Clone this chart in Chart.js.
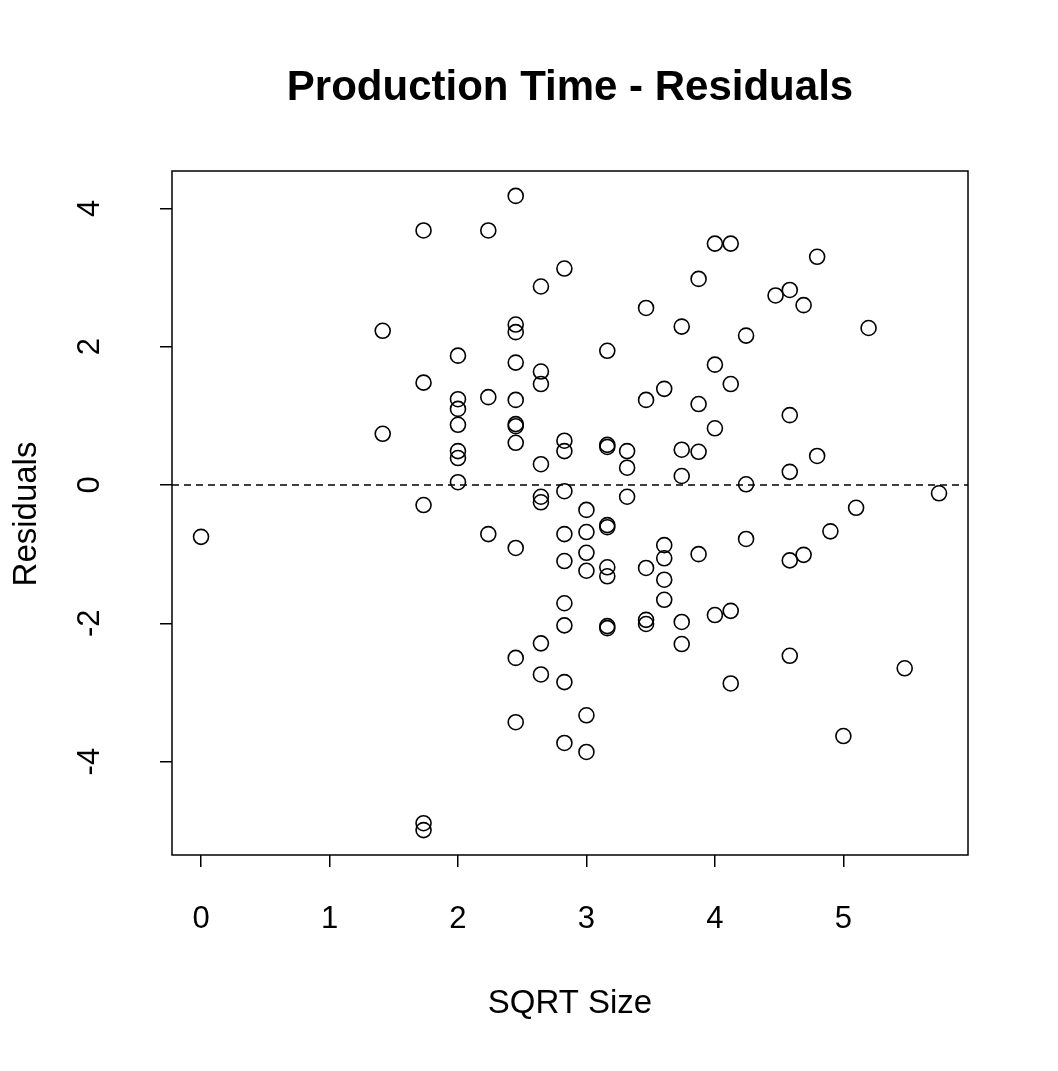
<!DOCTYPE html>
<html>
<head>
<meta charset="utf-8">
<script src="https://cdn.jsdelivr.net/npm/chart.js@4"></script>
<style>
  body { margin: 0; background: #fff; }
  #wrap { width: 1058px; height: 1071px; }
</style>
</head>
<body>
<div id="wrap"><canvas id="resid"></canvas></div>
<script>
// size values (x is sqrt of these) and residuals
const sizes = [0,
  2, 2,
  3, 3, 3, 3, 3,
  4, 4, 4, 4, 4, 4, 4,
  5, 5, 5,
  6, 6, 6, 6, 6, 6, 6, 6, 6, 6, 6,
  7, 7, 7, 7, 7, 7, 7, 7,
  8, 8, 8, 8, 8, 8, 8, 8, 8, 8,
  9, 9, 9, 9, 9, 9,
  10, 10, 10, 10, 10, 10, 10, 10, 10,
  11, 11, 11,
  12, 12, 12, 12, 12,
  13, 13, 13, 13, 13,
  14, 14, 14, 14, 14,
  15, 15, 15, 15,
  16, 16, 16, 16,
  17, 17, 17, 17,
  18, 18, 18,
  20,
  21, 21, 21, 21, 21,
  22, 22,
  23, 23,
  24, 25, 26, 27, 30, 33];
const residuals = [-0.75,
  2.23, 0.74,
  3.68, 1.48, -0.29, -4.89, -4.99,
  1.87, 1.24, 1.10, 0.87, 0.49, 0.39, 0.04,
  3.68, 1.27, -0.71,
  4.18, 2.32, 2.21, 1.77, 1.23, 0.88, 0.85, 0.61, -0.91, -2.50, -3.43,
  2.87, 1.64, 1.46, 0.30, -0.17, -0.25, -2.29, -2.74,
  3.13, 0.64, 0.49, -0.09, -0.71, -1.10, -1.71, -2.03, -2.85, -3.73,
  -0.36, -0.68, -0.98, -1.24, -3.33, -3.86,
  1.94, 0.58, 0.55, -0.58, -0.61, -1.19, -1.32, -2.04, -2.07,
  0.49, 0.25, -0.17,
  2.56, 1.23, -1.20, -1.95, -2.01,
  1.39, -0.87, -1.06, -1.37, -1.66,
  2.29, 0.51, 0.13, -1.98, -2.30,
  2.98, 1.17, 0.48, -1.00,
  3.49, 1.74, 0.82, -1.88,
  3.49, 1.46, -1.82, -2.87,
  2.16, 0.01, -0.78,
  2.74,
  2.82, 1.01, 0.19, -1.09, -2.47,
  2.60, -1.01,
  3.30, 0.42,
  -0.67, -3.63, -0.33, 2.27, -2.65, -0.12];
const xTicks = [0, 1, 2, 3, 4, 5];
const yTicks = [-4, -2, 0, 2, 4];

const points = sizes.map((s, i) => ({ x: Math.sqrt(s), y: residuals[i] }));
const FONT = "'Liberation Sans', Arial, sans-serif";

const decor = {
  id: "decor",
  afterDraw(chart) {
    const ctx = chart.ctx;
    const a = chart.chartArea;
    const ys = chart.scales.y;
    ctx.save();
    // box
    ctx.strokeStyle = "#000";
    ctx.lineWidth = 1.5;
    ctx.strokeRect(a.left, a.top, a.right - a.left, a.bottom - a.top);
    // zero line
    const y0 = ys.getPixelForValue(0);
    ctx.setLineDash([7, 5]);
    ctx.beginPath();
    ctx.moveTo(a.left, y0);
    ctx.lineTo(a.right, y0);
    ctx.stroke();
    ctx.setLineDash([]);
    ctx.fillStyle = "#000";
    // rotated y tick labels
    ctx.font = "31px " + FONT;
    ctx.textAlign = "center";
    ctx.textBaseline = "middle";
    yTicks.forEach(v => {
      ctx.save();
      ctx.translate(90, ys.getPixelForValue(v));
      ctx.rotate(-Math.PI / 2);
      ctx.fillText(String(v), 0, 0);
      ctx.restore();
    });
    // title
    ctx.font = "bold 42px " + FONT;
    ctx.fillText("Production Time - Residuals", 570, 88);
    // axis titles
    ctx.font = "33px " + FONT;
    ctx.fillText("SQRT Size", 570, 1004);
    ctx.save();
    ctx.translate(27, 514);
    ctx.rotate(-Math.PI / 2);
    ctx.fillText("Residuals", 0, 0);
    ctx.restore();
    ctx.restore();
  }
};

document.addEventListener("DOMContentLoaded", function () {
  const el = document.getElementById("resid");
  new Chart(el, {
    type: "scatter",
    data: {
      datasets: [
        {
          data: points,
          pointStyle: "circle",
          pointRadius: 7.5,
          pointHoverRadius: 7.5,
          borderColor: "#000",
          backgroundColor: "rgba(0,0,0,0)",
          borderWidth: 1.6,
        },
      ],
    },
    options: {
      responsive: true,
      maintainAspectRatio: false,
      animation: false,
      layout: { padding: { top: 171, right: 90, left: 0, bottom: 0 } },
      scales: {
        x: {
          min: -0.226,
          max: 5.97,
          afterBuildTicks: s => { s.ticks = xTicks.map(v => ({ value: v })); },
          afterFit: s => { s.height = 216; },
          border: { display: false },
          grid: { drawOnChartArea: false, drawTicks: true, tickLength: 12, color: "#000", lineWidth: 1.5 },
          ticks: { color: "#000", font: { size: 31, family: FONT }, padding: 34, maxRotation: 0 },
        },
        y: {
          min: -5.35,
          max: 4.54,
          afterBuildTicks: s => { s.ticks = yTicks.map(v => ({ value: v })); },
          afterFit: s => { s.width = 172; },
          border: { display: false },
          grid: { drawOnChartArea: false, drawTicks: true, tickLength: 12, color: "#000", lineWidth: 1.5 },
          ticks: { display: false },
        },
      },
      plugins: {
        legend: { display: false },
        tooltip: { enabled: false },
      },
    },
    plugins: [decor],
  });
});
</script>
</body>
</html>
